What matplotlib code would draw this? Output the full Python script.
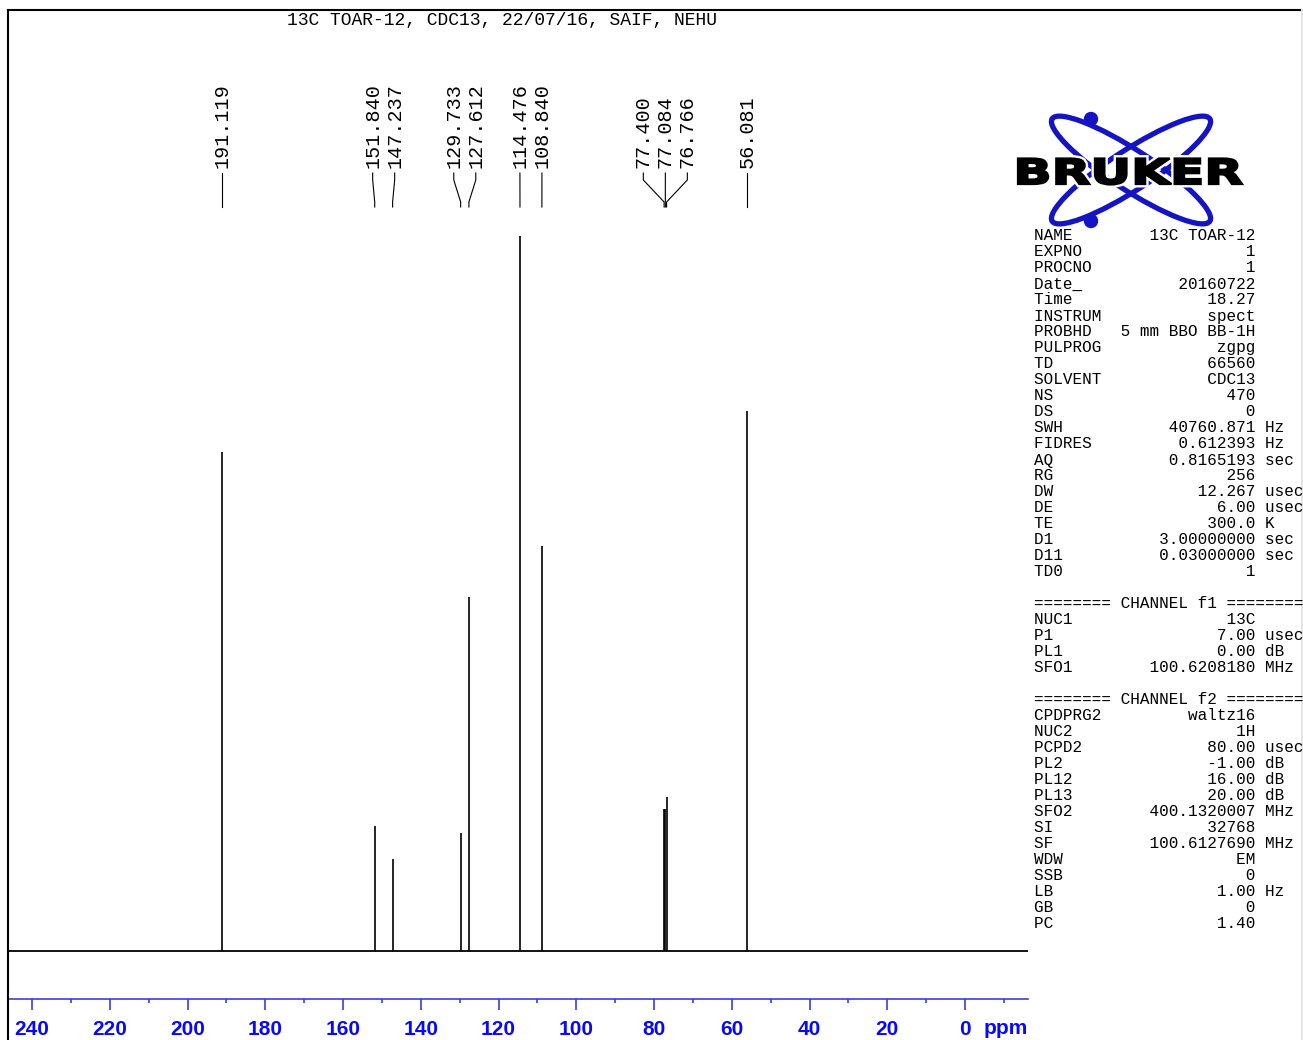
import numpy as np
import matplotlib.pyplot as plt
import matplotlib.transforms as mtransforms
from matplotlib.patches import Ellipse, Circle, PathPatch
from matplotlib.textpath import TextPath
from matplotlib.font_manager import FontProperties
from matplotlib.lines import Line2D

# Datos del espectro 13C (ppm e intensidad relativa)
peak_ppm = [191.119, 151.840, 147.237, 129.733, 127.612, 114.476, 108.840,
            77.400, 77.084, 76.766, 56.081]
peak_int = [69.8, 17.5, 12.9, 16.5, 49.5, 100.0, 56.6, 19.9, 19.9, 21.5, 75.5]

title = "13C TOAR-12, CDC13, 22/07/16, SAIF, NEHU"

major_ticks = [240, 220, 200, 180, 160, 140, 120, 100, 80, 60, 40, 20, 0]
minor_ticks = [230, 210, 190, 170, 150, 130, 110, 90, 70, 50, 30, 10, -10]

# Parametros de adquisicion
acq_names = ["NAME", "EXPNO", "PROCNO", "Date_", "Time", "INSTRUM", "PROBHD",
             "PULPROG", "TD", "SOLVENT", "NS", "DS", "SWH", "FIDRES", "AQ",
             "RG", "DW", "DE", "TE", "D1", "D11", "TD0"]
acq_values = ["13C TOAR-12", "1", "1", "20160722", "18.27", "spect",
              "5 mm BBO BB-1H", "zgpg", "66560", "CDC13", "470", "0",
              "40760.871", "0.612393", "0.8165193", "256", "12.267", "6.00",
              "300.0", "3.00000000", "0.03000000", "1"]
acq_units = ["", "", "", "", "", "", "", "", "", "", "", "", "Hz", "Hz", "sec",
             "", "usec", "usec", "K", "sec", "sec", ""]

f1_names = ["NUC1", "P1", "PL1", "SFO1"]
f1_values = ["13C", "7.00", "0.00", "100.6208180"]
f1_units = ["", "usec", "dB", "MHz"]

f2_names = ["CPDPRG2", "NUC2", "PCPD2", "PL2", "PL12", "PL13", "SFO2", "SI",
            "SF", "WDW", "SSB", "LB", "GB", "PC"]
f2_values = ["waltz16", "1H", "80.00", "-1.00", "16.00", "20.00",
             "400.1320007", "32768", "100.6127690", "EM", "0", "1.00", "0",
             "1.40"]
f2_units = ["", "", "usec", "dB", "dB", "dB", "MHz", "", "MHz", "", "", "Hz",
            "", ""]

W, H = 1303, 1040
blue_lbl = "#0808ff"
blue_axis = "#3c3ce6"
blue_logo = "#1414c4"
mono = "Liberation Mono"


def fx(x):
    return x / W


def fy(y):
    return 1 - y / H


fig = plt.figure(figsize=(W / 100, H / 100), dpi=100)

# Eje principal del espectro
ax = fig.add_axes([fx(8), fy(999), 1020 / W, 989 / H])
ppm_per_px = 240 / (965 - 32)
ax.set_xlim((965 - 8) * ppm_per_px, (965 - 1028) * ppm_per_px)
int_per_px = 100 / 715
ax.set_ylim(-48 * int_per_px, (951 - 10) * int_per_px)

ax.axhline(0, color="k", lw=1.3)
ax.vlines(peak_ppm, 0, peak_int, color="k", lw=1.2)

for s in ["top", "left", "right"]:
    ax.spines[s].set_visible(False)
ax.spines["bottom"].set_color(blue_axis)
ax.spines["bottom"].set_linewidth(1.2)
ax.set_yticks([])
ax.set_xticks(major_ticks, labels=[str(t) for t in major_ticks],
              fontweight="bold", fontsize=15, color=blue_lbl,
              family="Liberation Sans")
ax.set_xticks(minor_ticks, minor=True)
ax.tick_params(axis="x", which="major", direction="out", length=8, width=1.2,
               color=blue_axis, pad=7)
ax.tick_params(axis="x", which="minor", direction="out", length=3, width=1.2,
               color=blue_axis)

trans = mtransforms.blended_transform_factory(ax.transData, fig.transFigure)
ax.text((965 - 1005.5) * ppm_per_px, fy(1029), "ppm", transform=trans,
        ha="center", va="center", fontweight="bold", fontsize=15,
        color=blue_lbl, family="Liberation Sans")

# Etiquetas de picos agrupadas
spacing = 22 * ppm_per_px
groups = [[0]]
for i in range(1, len(peak_ppm)):
    if peak_ppm[i - 1] - peak_ppm[i] < spacing * 1.15:
        groups[-1].append(i)
    else:
        groups.append([i])

for g in groups:
    center = np.mean([peak_ppm[i] for i in g])
    n = len(g)
    for j, i in enumerate(g):
        lx = center + (n - 1) / 2 * spacing - j * spacing
        p = peak_ppm[i]
        ax.plot([lx, lx, p, p], [fy(173), fy(180), fy(202), fy(207)],
                transform=trans, color="k", lw=0.8, clip_on=False)
        ax.text(lx, fy(168), f"{p:.3f}", rotation=90, ha="center",
                va="bottom", transform=trans, family=mono, fontsize=14.5)

fig.text(fx(502), fy(20), title, ha="center", va="center", family=mono,
         fontsize=13)

# Marco
fig.add_artist(Line2D([fx(8), 1], [fy(10), fy(10)], color="k", lw=1.5))
fig.add_artist(Line2D([fx(8), fx(8)], [0, fy(10)], color="k", lw=1.5))
fig.add_artist(Line2D([fx(1301.5), fx(1301.5)], [0, fy(10)], color="#e4e4e4",
                      lw=1.5))

# Logo BRUKER
lax = fig.add_axes([fx(1010), fy(240), 240 / W, 140 / H])
lax.set_xlim(1010, 1250)
lax.set_ylim(240, 100)
lax.axis("off")
for ang in [33, -33]:
    lax.add_patch(Ellipse((1131, 170), 2 * 94, 2 * 20, angle=ang, fill=False,
                          ec=blue_logo, lw=3.8))
lax.add_patch(Circle((1091, 119), 6.5, color=blue_logo))
lax.add_patch(Circle((1091, 221), 6.5, color=blue_logo))

tp = TextPath((0, 0), "BRUKER", size=40,
              prop=FontProperties(family="DejaVu Sans", weight="bold"))
ext = tp.get_extents()
tf = mtransforms.Affine2D().translate(-ext.x0, -ext.y0).scale(
    224 / ext.width, -26 / ext.height).translate(1018, 184.5)
path = tf.transform_path(tp)
lax.add_patch(PathPatch(path, fc="white", ec="white", lw=5, zorder=3))
lax.add_patch(PathPatch(path, fc="black", ec="black", lw=1.6, zorder=4))

# Tabla de parametros
lines = []
for nm, val, un in zip(acq_names, acq_values, acq_units):
    lines.append(nm + val.rjust(23 - len(nm)) + (" " + un if un else ""))
lines.append("")
lines.append("======== CHANNEL f1 ========")
for nm, val, un in zip(f1_names, f1_values, f1_units):
    lines.append(nm + val.rjust(23 - len(nm)) + (" " + un if un else ""))
lines.append("")
lines.append("======== CHANNEL f2 ========")
for nm, val, un in zip(f2_names, f2_values, f2_units):
    lines.append(nm + val.rjust(23 - len(nm)) + (" " + un if un else ""))

for k, ln in enumerate(lines):
    fig.text(fx(1034), fy(236 + 16 * k), ln, ha="left", va="center",
             family=mono, fontsize=11.5)

fig.savefig("out.png", dpi=100)
